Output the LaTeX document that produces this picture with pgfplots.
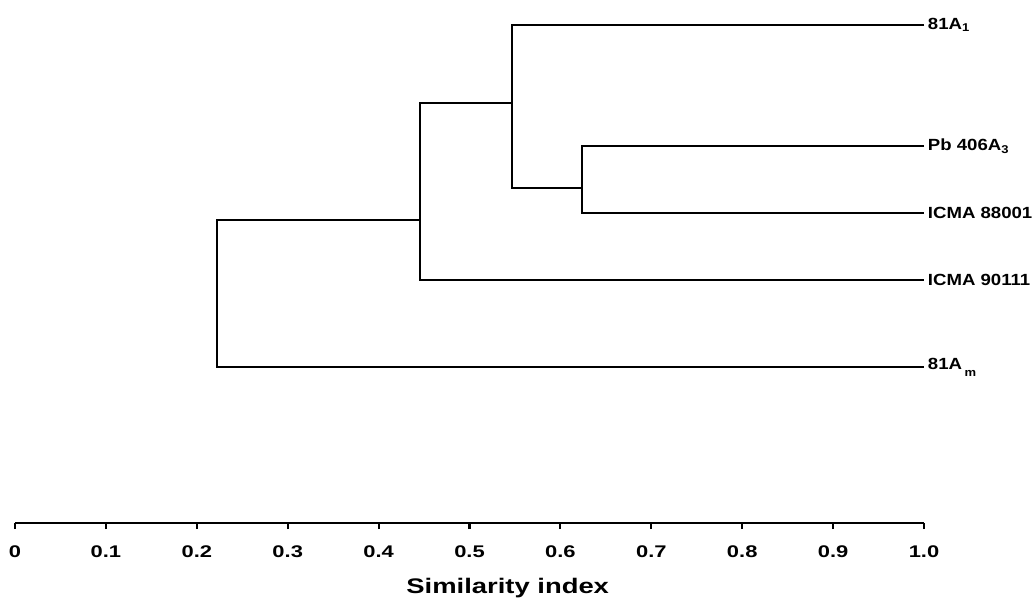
\documentclass[border=0pt]{standalone}
\usepackage{fontspec}
\setmainfont{Liberation Sans}
\newfontfamily\wide{Liberation Sans}[FakeStretch=1.3]
\newfontfamily\leaf{Liberation Sans}[FakeStretch=1.15]
\usepackage{pgfplots}
\pgfplotsset{compat=1.18}

\begin{document}
\begin{tikzpicture}
\begin{axis}[
  scale only axis,
  width=22.725cm, height=13.075cm,
  xmin=0, xmax=1, ymin=0, ymax=523,
  y dir=reverse,
  clip=false,
  axis x line*=bottom,
  axis y line=none,
  axis line style={line width=1.5pt},
  xtick={0,0.1,0.2,0.3,0.4,0.5,0.6,0.7,0.8,0.9,1},
  xticklabels={0,0.1,0.2,0.3,0.4,0.5,0.6,0.7,0.8,0.9,1.0},
  tick align=outside,
  major tick length=0.15cm,
  tick style={line width=1.5pt, black},
  xticklabel style={font=\wide\bfseries\fontsize{12}{14}\selectfont, yshift=-0.3cm},
]
% dendrogram branches (y = row position, top = 0)
\addplot[black, line width=1.5pt] coordinates {(1,146) (0.624,146) (0.624,213) (1,213)};
\addplot[black, line width=1.5pt] coordinates {(1,25) (0.547,25) (0.547,188) (0.624,188)};
\addplot[black, line width=1.5pt] coordinates {(0.547,103) (0.446,103) (0.446,280) (1,280)};
\addplot[black, line width=1.5pt] coordinates {(0.446,220) (0.222,220) (0.222,367) (1,367)};

\begin{scope}[every node/.style={anchor=west, inner sep=0pt, font=\leaf\bfseries\fontsize{11.5}{13}\selectfont}]
\node at (axis cs:1.004,25) {81A\textsubscript{1}};
\node at (axis cs:1.004,146) {Pb 406A\textsubscript{3}};
\node at (axis cs:1.004,213) {ICMA 88001};
\node at (axis cs:1.004,280) {ICMA 90111};
\node at (axis cs:1.004,367) {81A\,\raisebox{-0.5ex}{\textsubscript{m}}};
\end{scope}

\node[font=\wide\bfseries\fontsize{15}{18}\selectfont, inner sep=0pt] at (axis cs:0.542,588) {Similarity index};

\path (axis cs:-0.0165,0) rectangle (axis cs:1.1199,606);
\end{axis}
\end{tikzpicture}
\end{document}
